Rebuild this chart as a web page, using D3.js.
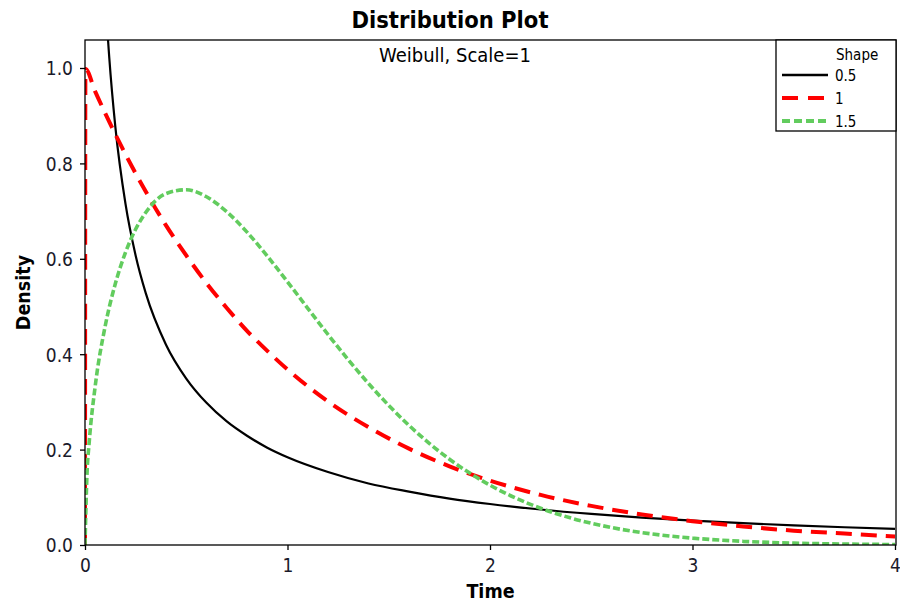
<!DOCTYPE html>
<html><head><meta charset="utf-8">
<script src="https://cdn.jsdelivr.net/npm/d3@7"></script>
<style>body{margin:0;background:#fff;} text{font-family:"DejaVu Sans Condensed","DejaVu Sans",sans-serif;}</style>
</head><body>
<svg id="c" width="900" height="604"></svg>
<script>
const shapeLabels = ["0.5", "1", "1.5"];
const colors = ["#000000", "#ff0000", "#62cc5e"];
const xTicks = [0, 1, 2, 3, 4];
const yTicks = [0.0, 0.2, 0.4, 0.6, 0.8, 1.0];

const shape05X = [0.05,0.08,0.1,0.12,0.15,0.2,0.25,0.3,0.4,0.5,0.6,0.7,0.8,0.9,1.0,1.2,1.4,1.6,1.8,2.0,2.25,2.5,2.75,3.0,3.25,3.5,3.75,4.0];
const shape05Y = [1.788,1.332,1.153,1.021,0.876,0.715,0.607,0.528,0.420,0.349,0.298,0.259,0.229,0.204,0.184,0.153,0.129,0.112,0.0974,0.0860,0.0744,0.0651,0.0574,0.0511,0.0457,0.0412,0.0372,0.0338];

const shape1X = [0,0.002,0.05,0.1,0.2,0.3,0.4,0.5,0.6,0.7,0.8,0.9,1.0,1.2,1.4,1.6,1.8,2.0,2.25,2.5,2.75,3.0,3.25,3.5,3.75,4.0];
const shape1Y = [0,0.998,0.951,0.905,0.819,0.741,0.670,0.607,0.549,0.497,0.449,0.407,0.368,0.301,0.247,0.202,0.165,0.135,0.105,0.082,0.064,0.050,0.039,0.030,0.024,0.018];

const shape15X = [0,0.01,0.02,0.05,0.1,0.15,0.2,0.25,0.3,0.4,0.5,0.6,0.7,0.8,0.9,1.0,1.1,1.2,1.3,1.4,1.5,1.6,1.7,1.8,1.9,2.0,2.2,2.4,2.6,2.8,3.0,3.25,3.5,3.75,4.0];
const shape15Y = [0,0.150,0.2115,0.3317,0.4596,0.5481,0.6134,0.6619,0.6971,0.7367,0.7448,0.7300,0.6987,0.6559,0.6059,0.5518,0.4962,0.4413,0.3884,0.3386,0.2926,0.2507,0.2132,0.1799,0.1507,0.1254,0.0852,0.0565,0.0366,0.0232,0.0144,0.0077,0.0040,0.0020,0.0010];

const series = [
  {label: shapeLabels[0], xs: shape05X, ys: shape05Y, color: colors[0], width: 2.2, dash: null, legDash: null},
  {label: shapeLabels[1], xs: shape1X, ys: shape1Y, color: colors[1], width: 4, dash: "16,9", legDash: "16,10"},
  {label: shapeLabels[2], xs: shape15X, ys: shape15Y, color: colors[2], width: 3.6, dash: "7,3", legDash: "8,4"}
];

const L = 85, R = 896, T = 40, B = 545;
const x = d3.scaleLinear().domain([0, 4]).range([L, R - 1]);
const y = d3.scaleLinear().domain([0, 1]).range([B, 68]);
const svg = d3.select("#c");

svg.append("defs").append("clipPath").attr("id","clip")
  .append("rect").attr("x", L).attr("y", T).attr("width", R - L).attr("height", B - T);

const line = d3.line().x(d => x(d[0])).y(d => y(d[1])).curve(d3.curveMonotoneX);
const g = svg.append("g").attr("clip-path", "url(#clip)");
series.forEach(s => {
  const pts = s.xs.map((v, i) => [v, s.ys[i]]);
  g.append("path").datum(pts).attr("d", line).attr("fill", "none")
    .attr("stroke", s.color).attr("stroke-width", s.width)
    .attr("stroke-dasharray", s.dash);
});

// frame
svg.append("rect").attr("x", L).attr("y", T).attr("width", R - L).attr("height", B - T)
  .attr("fill", "none").attr("stroke", "#000").attr("stroke-width", 1.3);

const xAxis = svg.append("g").attr("transform", `translate(0,${B})`)
  .call(d3.axisBottom(x).tickValues(xTicks).tickFormat(d3.format("d")).tickSize(5).tickSizeOuter(0));
const yAxis = svg.append("g").attr("transform", `translate(${L},0)`)
  .call(d3.axisLeft(y).tickValues(yTicks).tickFormat(d3.format(".1f")).tickSize(5).tickSizeOuter(0));
[xAxis, yAxis].forEach(a => {
  a.select(".domain").remove();
  a.selectAll("text").style("font-size", "19px").attr("fill", "#1a1a2a")
    .style("font-family", "'DejaVu Sans Condensed','DejaVu Sans',sans-serif");
  a.selectAll("line").attr("stroke", "#000").attr("stroke-width", 1.3);
});
xAxis.selectAll("text").attr("dy", "1.0em");
yAxis.selectAll("text").attr("dx", "-4px").attr("dy", "0.36em");

svg.append("text").attr("x", 450).attr("y", 28).attr("text-anchor", "middle")
  .style("font-size", "23.5px").attr("font-weight", "bold").text("Distribution Plot");
svg.append("text").attr("x", 455).attr("y", 62).attr("text-anchor", "middle")
  .style("font-size", "20px").text("Weibull, Scale=1");
svg.append("text").attr("x", (L + R) / 2).attr("y", 598).attr("text-anchor", "middle")
  .style("font-size", "19.5px").attr("font-weight", "bold").text("Time");
svg.append("text").attr("transform", `translate(30,${(T + B) / 2}) rotate(-90)`).attr("text-anchor", "middle")
  .style("font-size", "19.5px").attr("font-weight", "bold").text("Density");

// legend
const lg = svg.append("g");
lg.append("rect").attr("x", 776).attr("y", T).attr("width", R - 776).attr("height", 91)
  .attr("fill", "#fff").attr("stroke", "#000").attr("stroke-width", 1.3);
lg.append("text").attr("x", 836).attr("y", 60).style("font-size", "15px").text("Shape");
series.forEach((s, i) => {
  const yy = 75 + i * 23;
  lg.append("line").attr("x1", 782).attr("x2", 828).attr("y1", yy).attr("y2", yy)
    .attr("stroke", s.color).attr("stroke-width", i === 0 ? 2.5 : 4)
    .attr("stroke-dasharray", s.legDash);
  lg.append("text").attr("x", 835).attr("y", yy + 6).style("font-size", "15px").text(s.label);
});
</script>
</body></html>
